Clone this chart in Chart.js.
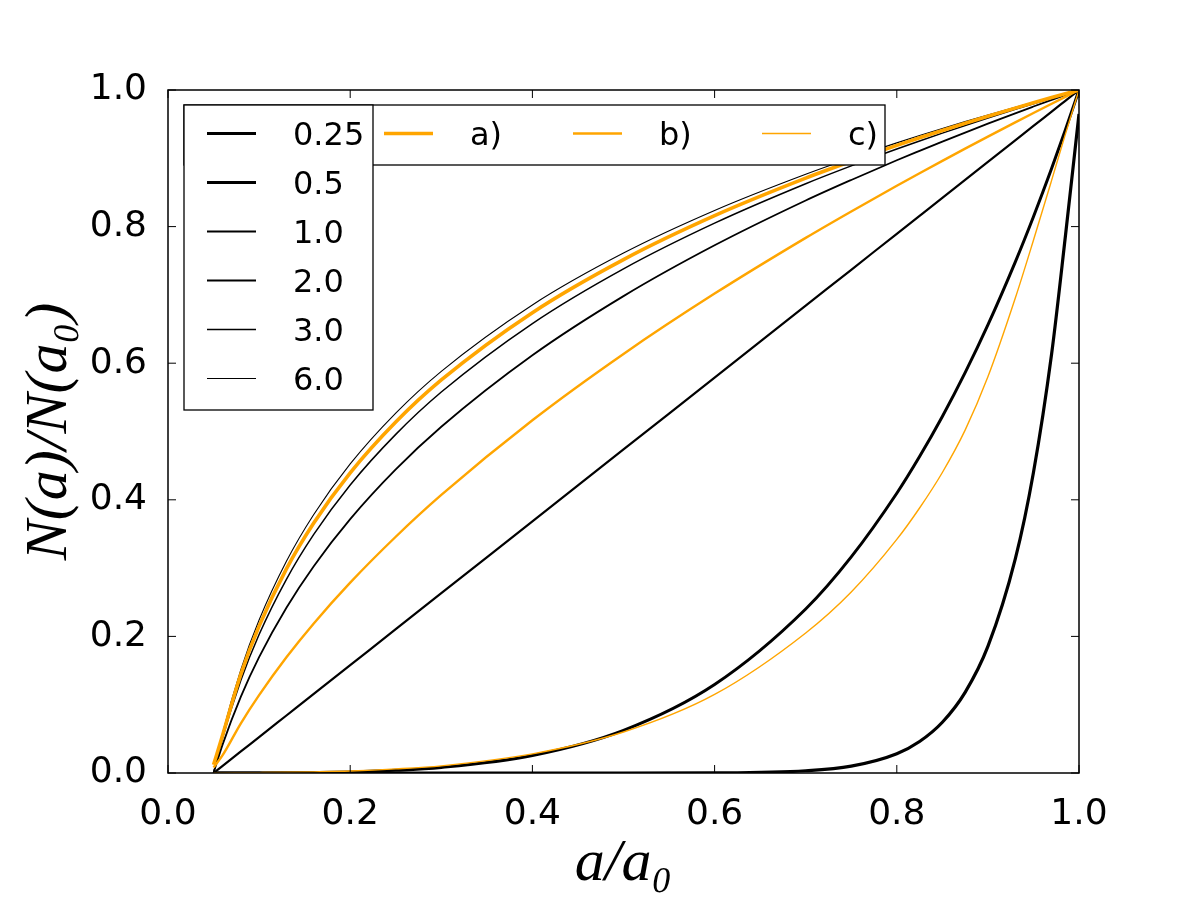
<!DOCTYPE html>
<html>
<head>
<meta charset="utf-8">
<script src="https://cdn.jsdelivr.net/npm/chart.js@4.4.0/dist/chart.umd.min.js"></script>
<style>
  html, body { margin: 0; padding: 0; background: #fff; }
</style>
</head>
<body>
<canvas id="chart" width="1200" height="900"></canvas>
<script>
// a/a0 sample points, shared by every curve
const aRatio = [0.05, 0.06, 0.08, 0.1, 0.13, 0.16, 0.2, 0.25, 0.3, 0.4, 0.5, 0.6, 0.7, 0.75, 0.8, 0.825, 0.85, 0.875, 0.9, 0.93, 0.95, 0.97, 0.985, 1.0];

// black curves, one per index value
const indexLabels = ["0.25", "0.5", "1.0", "2.0", "3.0", "6.0"];
const n025 = [0, 0, 0, 0, 0, 0, 0, 0, 0, 0, 0, 0.0003, 0.0033, 0.0100, 0.0282, 0.0461, 0.0743, 0.1181, 0.1853, 0.3131, 0.4401, 0.6143, 0.7852, 0.965];
const n05 = [0, 0, 0, 0.0001, 0.0003, 0.0007, 0.0016, 0.0039, 0.0081, 0.0256, 0.0625, 0.1296, 0.2401, 0.3164, 0.4096, 0.4633, 0.5220, 0.5862, 0.6561, 0.7481, 0.8145, 0.8853, 0.9413, 1];
const n1 = [0, 0.0105, 0.0316, 0.0526, 0.0842, 0.1158, 0.1579, 0.2105, 0.2632, 0.3684, 0.4737, 0.5789, 0.6842, 0.7368, 0.7895, 0.8158, 0.8421, 0.8684, 0.8947, 0.9263, 0.9474, 0.9684, 0.9842, 1];
const n2 = [0, 0.0419, 0.1119, 0.1697, 0.2420, 0.3028, 0.3716, 0.4444, 0.5069, 0.6116, 0.6982, 0.7726, 0.8382, 0.8683, 0.8971, 0.9109, 0.9245, 0.9377, 0.9507, 0.9659, 0.9758, 0.9856, 0.9928, 1];
const n3 = [0, 0.0518, 0.1357, 0.2027, 0.2836, 0.3493, 0.4217, 0.4958, 0.5578, 0.6581, 0.7382, 0.8051, 0.8628, 0.8889, 0.9135, 0.9253, 0.9368, 0.9480, 0.9589, 0.9716, 0.9799, 0.9881, 0.9941, 1];
const n6 = [0, 0.0586, 0.1514, 0.2240, 0.3100, 0.3785, 0.4525, 0.5269, 0.5881, 0.6853, 0.7612, 0.8235, 0.8765, 0.9003, 0.9226, 0.9333, 0.9436, 0.9537, 0.9634, 0.9748, 0.9822, 0.9894, 0.9947, 1];

// orange curves a), b), c)
const caseLabels = ["a)", "b)", "c)"];
const caseA = [0.012, 0.0556, 0.1448, 0.2150, 0.2989, 0.3661, 0.4395, 0.5139, 0.5755, 0.6740, 0.7517, 0.8160, 0.8709, 0.8956, 0.9189, 0.9300, 0.9408, 0.9513, 0.9615, 0.9735, 0.9813, 0.9889, 0.9945, 1];
const caseB = [0.008, 0.0261, 0.0727, 0.1140, 0.1694, 0.2190, 0.2787, 0.3459, 0.4071, 0.5165, 0.6136, 0.7019, 0.7835, 0.8222, 0.8598, 0.8782, 0.8963, 0.9141, 0.9317, 0.9526, 0.9663, 0.9799, 0.9900, 1];
const caseC = [0, 0.0002, 0.0004, 0.0006, 0.001, 0.0017, 0.003, 0.006, 0.0105, 0.028, 0.06, 0.115, 0.205, 0.265, 0.342, 0.388, 0.44, 0.502, 0.58, 0.695, 0.78, 0.868, 0.935, 1];

const axisTicks = [0, 0.2, 0.4, 0.6, 0.8, 1.0];

const ORANGE = "#ffa500";

function pts(ys) {
  return aRatio.map((x, i) => ({ x: x, y: ys[i] }));
}

function curve(label, ys, color, width, group) {
  return {
    label: label,
    data: pts(ys),
    borderColor: color,
    borderWidth: width,
    pointRadius: 0,
    fill: false,
    cubicInterpolationMode: "monotone",
    order: group === "case" ? 0 : 1,
    group: group,
  };
}

const datasets = [
  curve(indexLabels[0], n025, "#000", 3.2, "index"),
  curve(indexLabels[1], n05, "#000", 3, "index"),
  curve(indexLabels[2], n1, "#000", 2.2, "index"),
  curve(indexLabels[3], n2, "#000", 1.8, "index"),
  curve(indexLabels[4], n3, "#000", 1.5, "index"),
  curve(indexLabels[5], n6, "#000", 1.1, "index"),
  curve(caseLabels[0], caseA, ORANGE, 3.6, "case"),
  curve(caseLabels[1], caseB, ORANGE, 2.4, "case"),
  curve(caseLabels[2], caseC, ORANGE, 1.4, "case"),
];

// frame, inward ticks on all four sides, and the two legend boxes
const framePlugin = {
  id: "frame",
  afterDraw(chart) {
    const ctx = chart.ctx;
    const a = chart.chartArea;
    const xs = chart.scales.x;
    const ys = chart.scales.y;
    ctx.save();
    ctx.strokeStyle = "#000";
    ctx.lineWidth = 1;
    axisTicks.forEach((v) => {
      const px = xs.getPixelForValue(v);
      const py = ys.getPixelForValue(v);
      ctx.beginPath();
      ctx.moveTo(px, a.bottom); ctx.lineTo(px, a.bottom - 8);
      ctx.moveTo(px, a.top); ctx.lineTo(px, a.top + 8);
      ctx.moveTo(a.left, py); ctx.lineTo(a.left + 8, py);
      ctx.moveTo(a.right, py); ctx.lineTo(a.right - 8, py);
      ctx.stroke();
    });
    ctx.lineWidth = 1.5;
    ctx.strokeRect(a.left, a.top, a.right - a.left, a.bottom - a.top);

    const sets = chart.data.datasets;
    ctx.font = "32px 'DejaVu Sans'";
    ctx.textBaseline = "alphabetic";
    ctx.textAlign = "left";

    // horizontal legend for the orange cases
    ctx.fillStyle = "#fff";
    ctx.fillRect(184, 105, 701, 60);
    ctx.lineWidth = 1.3;
    ctx.strokeRect(184, 105, 701, 60);
    sets.filter((d) => d.group === "case").forEach((d, i) => {
      const x = 384 + i * 189;
      ctx.strokeStyle = d.borderColor;
      ctx.lineWidth = d.borderWidth;
      ctx.beginPath();
      ctx.moveTo(x, 133.5); ctx.lineTo(x + 49, 133.5);
      ctx.stroke();
      ctx.fillStyle = "#000";
      ctx.fillText(d.label, x + 86, 145);
    });

    // vertical legend for the index values
    ctx.fillStyle = "#fff";
    ctx.fillRect(184, 105, 189, 305);
    ctx.strokeStyle = "#000";
    ctx.lineWidth = 1.3;
    ctx.strokeRect(184, 105, 189, 305);
    sets.filter((d) => d.group === "index").forEach((d, i) => {
      const y = 133.5 + i * 49;
      ctx.strokeStyle = d.borderColor;
      ctx.lineWidth = d.borderWidth;
      ctx.beginPath();
      ctx.moveTo(207, y); ctx.lineTo(256, y);
      ctx.stroke();
      ctx.fillStyle = "#000";
      ctx.fillText(d.label, 293, y + 11.5);
    });
    ctx.restore();
  },
};

const tickFont = { family: "'DejaVu Sans'", size: 36 };
const titleFont = { family: "'Liberation Serif', 'DejaVu Serif', serif", style: "italic", size: 60, lineHeight: 1 };

new Chart(document.getElementById("chart"), {
  type: "line",
  data: { datasets: datasets },
  options: {
    responsive: false,
    animation: false,
    devicePixelRatio: 1,
    layout: { padding: { top: 90, right: 121, left: 0, bottom: 0 } },
    plugins: { legend: { display: false }, tooltip: { enabled: false } },
    scales: {
      x: {
        type: "linear",
        min: 0,
        max: 1,
        grid: { display: false },
        border: { display: false },
        ticks: {
          stepSize: 0.2,
          color: "#000",
          font: tickFont,
          padding: 12,
          maxRotation: 0,
          callback: (v) => v.toFixed(1),
        },
        title: { display: true, text: "a/a₀", color: "#000", font: titleFont, padding: { bottom: 6 } },
        afterFit: (s) => { s.height = 127; },
      },
      y: {
        type: "linear",
        min: 0,
        max: 1,
        grid: { display: false },
        border: { display: false },
        ticks: {
          stepSize: 0.2,
          color: "#000",
          font: tickFont,
          padding: 13,
          callback: (v) => v.toFixed(1),
        },
        title: { display: true, text: "N(a)/N(a₀)", color: "#000", font: titleFont, padding: { top: 20 } },
        afterFit: (s) => { s.width = 168; },
      },
    },
  },
  plugins: [framePlugin],
});
</script>
</body>
</html>
